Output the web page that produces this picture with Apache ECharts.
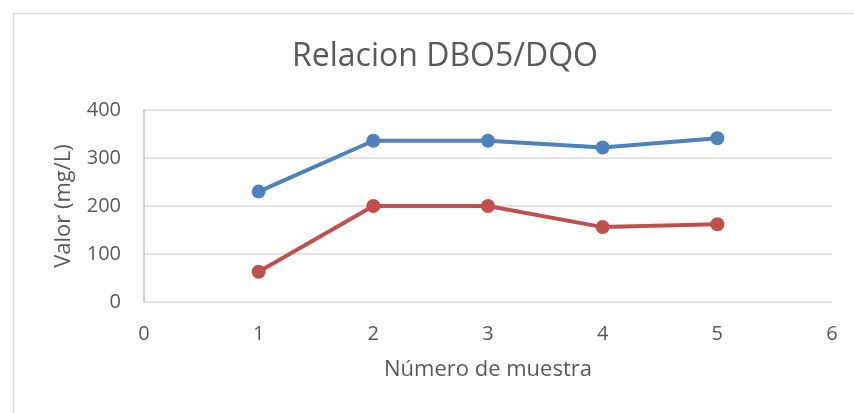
<!DOCTYPE html>
<html>
<head>
<meta charset="utf-8">
<script src="https://cdn.jsdelivr.net/npm/echarts@6/dist/echarts.min.js"></script>
<style>html,body{margin:0;padding:0;background:#fff;}#c{width:854px;height:413px;}</style>
</head>
<body>
<div id="c"></div>
<script>
var xValues = [1, 2, 3, 4, 5];
var serieAzul = [230, 336, 336, 322, 341];
var serieRoja = [63, 200, 200, 156, 162];
var xTicks = [0, 1, 2, 3, 4, 5, 6];
var yTicks = [0, 100, 200, 300, 400];

function pairs(xs, ys) { return xs.map(function (x, i) { return [x, ys[i]]; }); }

var chart = echarts.init(document.getElementById('c'));
var font = 'Open Sans';
chart.setOption({
  animation: false,
  graphic: [{
    type: 'rect', left: 11, top: 11,
    shape: { width: 900, height: 450 },
    style: { fill: 'none', stroke: '#d9d9d9', lineWidth: 1.5 },
    silent: true
  }],
  title: {
    text: 'Relacion DBO5/DQO', left: 287, top: 36,
    textStyle: { fontFamily: font, fontSize: 32, fontWeight: 'normal', color: '#595959' }
  },
  grid: { left: 144, right: 22, top: 110, bottom: 111, containLabel: false },
  xAxis: {
    type: 'value', min: 0, max: 6, interval: 1,
    name: 'Número de muestra', nameLocation: 'middle', nameGap: 57,
    nameTextStyle: { fontFamily: font, fontSize: 22, color: '#595959' },
    axisLine: { show: false },
    axisTick: { show: false },
    splitLine: { show: false },
    axisLabel: { fontFamily: font, fontSize: 20, color: '#595959', margin: 22 }
  },
  yAxis: {
    type: 'value', min: 0, max: 400, interval: 100,
    name: 'Valor (mg/L)', nameLocation: 'middle', nameGap: 69,
    nameTextStyle: { fontFamily: font, fontSize: 22, color: '#595959' },
    axisLine: { show: true, lineStyle: { color: '#bfbfbf', width: 1.5 } },
    axisTick: { show: false },
    splitLine: { show: true, lineStyle: { color: '#d9d9d9', width: 1.5 } },
    axisLabel: { fontFamily: font, fontSize: 20, color: '#595959', margin: 23 }
  },
  series: [{
    type: 'line', data: pairs(xValues, serieAzul),
    symbol: 'circle', symbolSize: 14,
    lineStyle: { color: '#4F81BD', width: 4 },
    itemStyle: { color: '#4F81BD' }
  }, {
    type: 'line', data: pairs(xValues, serieRoja),
    symbol: 'circle', symbolSize: 14,
    lineStyle: { color: '#C0504D', width: 4 },
    itemStyle: { color: '#C0504D' }
  }]
});
</script>
</body>
</html>
